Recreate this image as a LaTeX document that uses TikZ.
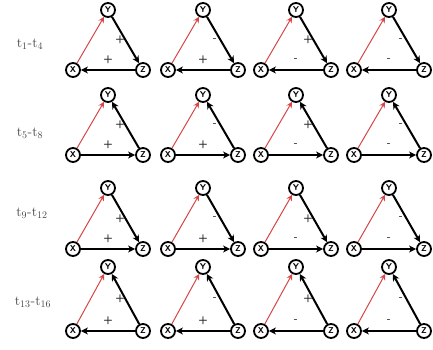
\documentclass[tikz,border=0pt]{standalone}
\usetikzlibrary{arrows.meta}
\begin{document}
\begin{tikzpicture}[x=1pt,y=-1pt,
  vnode/.style={circle,draw=black,line width=1.8pt,minimum size=14pt,inner sep=0pt,font=\sffamily\bfseries\fontsize{8.5}{8.5}\selectfont},
  blk/.style={line width=2pt,-{Stealth[length=7pt,width=7pt,inset=2pt]}},
  redarr/.style={draw={rgb,255:red,215;green,70;blue,70},line width=1pt,-{Stealth[length=6pt,width=6pt,inset=2pt]}},
  sgn/.style={font=\sffamily\bfseries\fontsize{11}{11}\selectfont,inner sep=0pt,text={rgb,255:red,40;green,40;blue,40}},
  rowlab/.style={font=\fontsize{14}{16}\selectfont,text={rgb,255:red,70;green,70;blue,70}}]
\useasboundingbox (0,0) rectangle (433,350);
% rows: #1 row id, #2 Y y, #3 bottom y, #4 YZ dir (1: Y->Z, 0: Z->Y), #5 XZ dir (1: X->Z, 0: Z->X)
\def\rowdata{1/10/70/1/0, 2/95/155/0/1, 3/188/249/1/1, 4/267/331/0/0}
\foreach \r/\ty/\by/\dyz/\dxz in \rowdata {
  \foreach \c/\xx/\syz/\sxz in {1/73/+/+, 2/168/-/+, 3/261/+/-, 4/354/-/-} {
    \node[vnode] (x\r\c) at (\xx,\by) {X};
    \node[vnode] (y\r\c) at ({\xx+35},\ty) {Y};
    \node[vnode] (z\r\c) at ({\xx+70},\by) {Z};
    \draw[redarr] (x\r\c) -- (y\r\c);
    \ifnum\dyz=1
      \draw[blk] (y\r\c) -- (z\r\c);
    \else
      \draw[blk] (z\r\c) -- (y\r\c);
    \fi
    \ifnum\dxz=1
      \draw[blk] (x\r\c) -- (z\r\c);
    \else
      \draw[blk] (z\r\c) -- (x\r\c);
    \fi
    \node[sgn] (syz\r\c) at ({\xx+47},{(\ty+\by)/2}) {\syz};
    \node[sgn] (sxz\r\c) at ({\xx+35},{\by-10}) {\sxz};
  }
}
\node[rowlab] (l1) at (30,44) {t$_1$-t$_4$};
\node[rowlab] (l2) at (30,133) {t$_5$-t$_8$};
\node[rowlab] (l3) at (32,213) {t$_9$-t$_{12}$};
\node[rowlab] (l4) at (33,302) {t$_{13}$-t$_{16}$};
\end{tikzpicture}
\end{document}
